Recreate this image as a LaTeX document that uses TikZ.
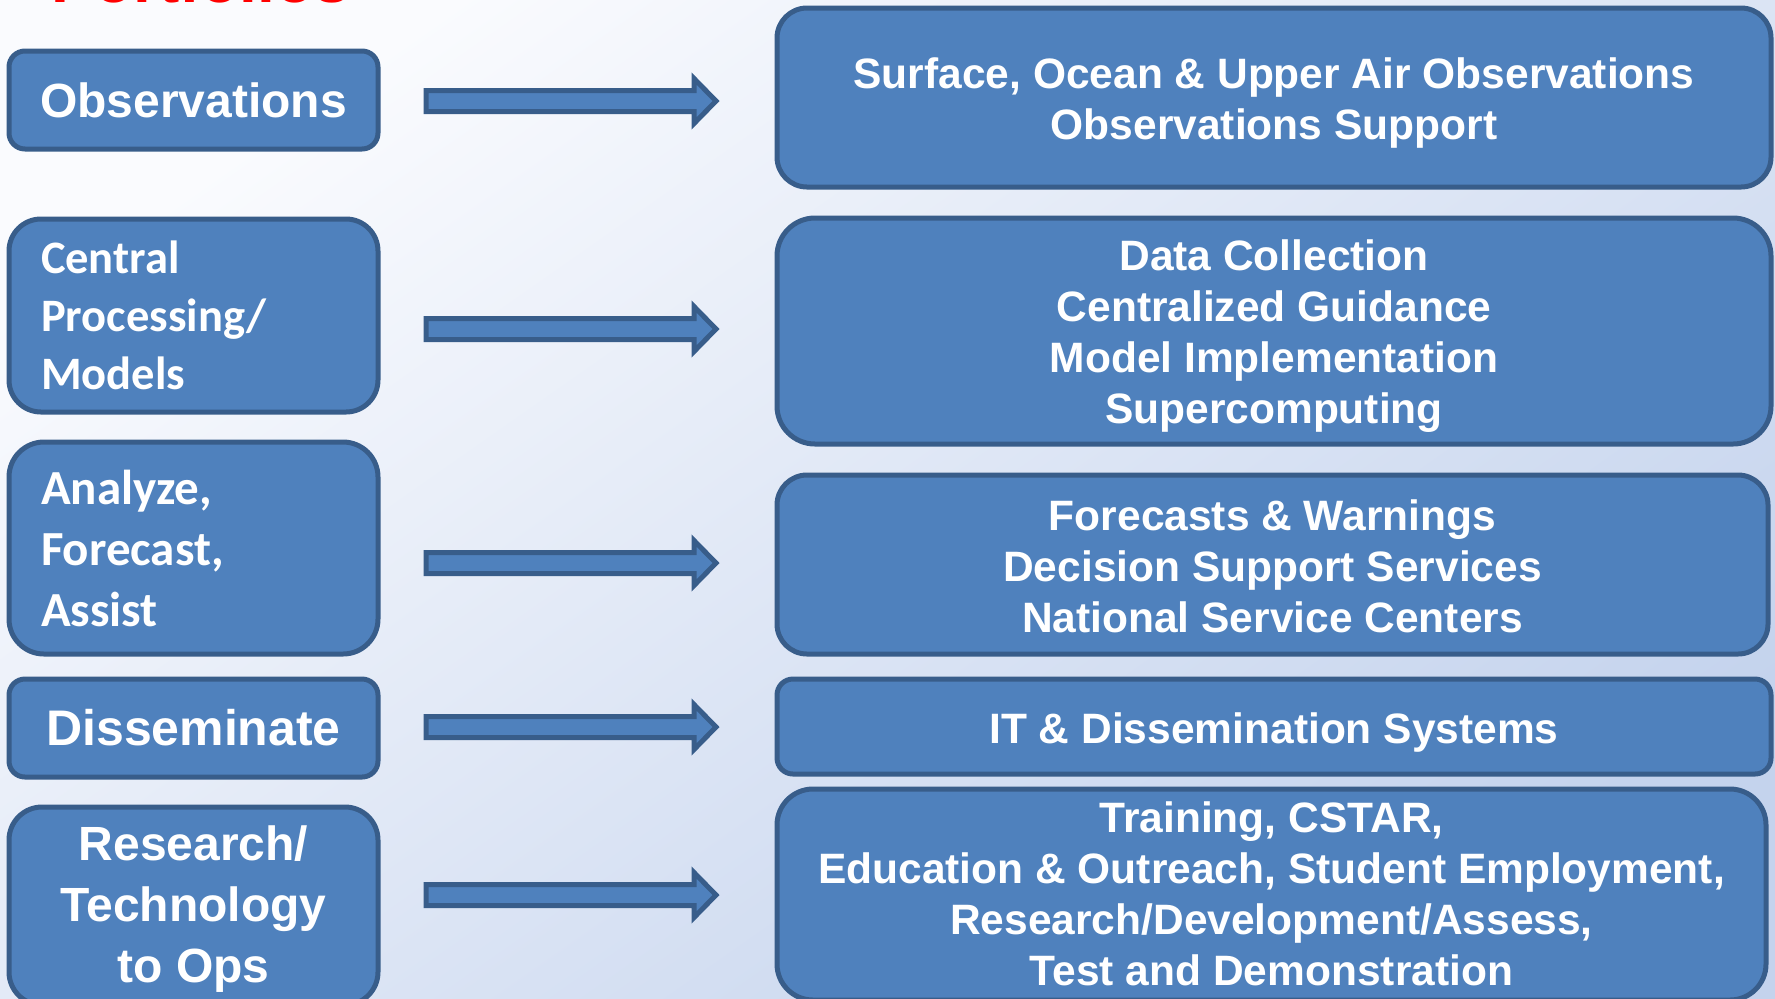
\documentclass[tikz,border=0pt]{standalone}
\usepackage{fontspec}
\setmainfont{Liberation Sans}
\newfontfamily\calib{Carlito}
\definecolor{bgA}{RGB}{250,251,254}
\definecolor{bgB}{RGB}{196,211,237}
\definecolor{boxfill}{RGB}{79,129,189}
\definecolor{boxline}{RGB}{56,93,138}
\definecolor{titlered}{RGB}{255,0,0}
\begin{document}
\begin{tikzpicture}[x=0.5pt,y=-0.5pt,
  box/.style={draw=boxline, fill=boxfill, line width=2.5pt, text=white, inner sep=0pt, align=center},
  lbox/.style={box, minimum width=184.5pt},
  rbox/.style={box},
  rtext/.style={text=white, inner sep=0pt, align=center, font=\bfseries\fontsize{21.25}{25.5}\selectfont},
  lfont/.style={font=\bfseries\fontsize{24}{30.5}\selectfont},
  arr/.style={draw=boxline, fill=boxfill, line width=2.5pt, line join=miter}
]
\useasboundingbox (0,0) rectangle (1775,998);
\begin{scope}
\clip (0,0) rectangle (1775,998);
\shade[top color=bgA, bottom color=bgB, shading angle=35] (0,0) rectangle (1775,998);

\node[anchor=base west, text=titlered, font=\bfseries\fontsize{32}{38}\selectfont, inner sep=0pt] (title) at (51,2.5) {Portfolios};

% left boxes
\node[lbox, lfont, minimum height=49pt, rounded corners=8pt] (obs) at (193.5,100) {Observations};
\node[lbox, minimum height=96.5pt, rounded corners=16pt, text width=152.5pt, align=left,
  font=\calib\bfseries\fontsize{23.25}{29}\selectfont] (cpm) at (193.5,315.5) {Central\\Processing/\\Models};
\node[lbox, minimum height=106pt, rounded corners=17.5pt, text width=152.5pt, align=left,
  font=\calib\bfseries\fontsize{24.5}{30.5}\selectfont] (afa) at (193.5,548) {Analyze,\\Forecast,\\Assist};
\node[lbox, minimum height=49pt, rounded corners=8pt, font=\bfseries\fontsize{25}{30}\selectfont] (dis) at (193.5,728) {Disseminate};
\node[lbox, minimum height=99pt, rounded corners=16.5pt] (rto) at (193.5,906) {};
\node[lfont, text=white, inner sep=0pt, align=center] (rtot) at ([yshift=-1.7pt]rto.center) {Research/\\Technology\\to Ops};

% right boxes
\node[rbox, minimum width=497pt, minimum height=89.5pt, rounded corners=15pt] (r1) at (1274,97.5) {};
\node[rtext] (r1t) at ([yshift=-2.9pt]r1.center) {Surface, Ocean \& Upper Air Observations\\Observations Support};
\node[rbox, minimum width=497pt, minimum height=113pt, rounded corners=19pt] (r2) at (1274,331) {};
\node[rtext] (r2t) at ([yshift=-2.6pt]r2.center) {Data Collection\\Centralized Guidance\\Model Implementation\\Supercomputing};
\node[rbox, minimum width=495.5pt, minimum height=89.5pt, rounded corners=15pt] (r3) at (1272.5,564.5) {};
\node[rtext] (r3t) at ([yshift=-0.9pt]r3.center) {Forecasts \& Warnings\\Decision Support Services\\National Service Centers};
\node[rbox, minimum width=497pt, minimum height=47.5pt, rounded corners=8pt] (r4) at (1274,726.5) {};
\node[rtext] (r4t) at ([yshift=-2.8pt]r4.center) {IT \& Dissemination Systems};
\node[rbox, minimum width=494.5pt, minimum height=105.5pt, rounded corners=18pt] (r5) at (1271.5,894.5) {};
\node[rtext] (r5t) at ([yshift=0.6pt]r5.center) {Training, CSTAR,\\Education \& Outreach, Student Employment,\\Research/Development/Assess,\\Test and Demonstration};

% block arrows
\foreach \n/\yy in {a1/101, a2/329, a3/563, a4/727, a5/895}{
  \coordinate (\n) at (426,\yy);
  \draw[arr] (\n) ++(0,-10.5) -- ++(268,0) -- ++(0,-12) -- ++(22,22.5) -- ++(-22,22.5) -- ++(0,-12) -- ++(-268,0) -- cycle;
}
\end{scope}
\end{tikzpicture}
\end{document}
